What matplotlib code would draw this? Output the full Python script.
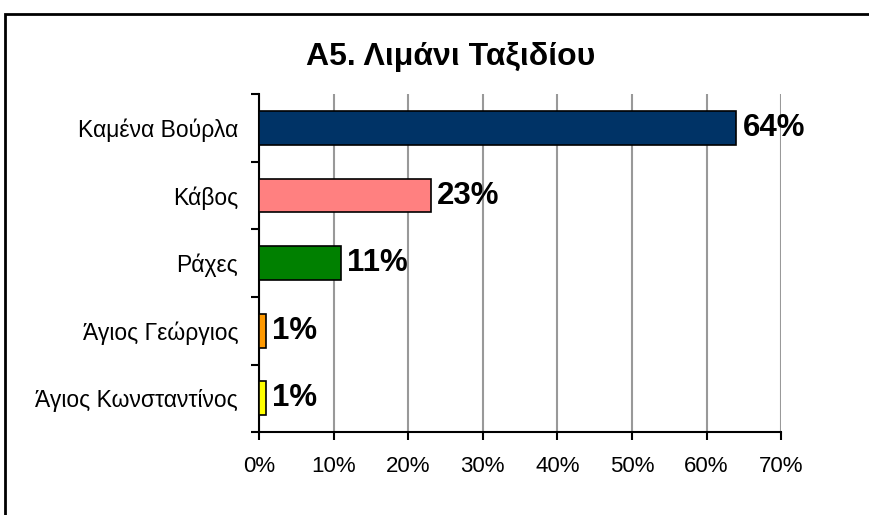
import matplotlib.pyplot as plt
from matplotlib.patches import Rectangle
import numpy as np

# data
categories = ["Καμένα Βούρλα", "Κάβος", "Ράχες", "Άγιος Γεώργιος", "Άγιος Κωνσταντίνος"]
values = [64, 23, 11, 1, 1]
colors = ["#003366", "#FF8080", "#008000", "#FF9900", "#FFFF00"]
xticks = [0, 10, 20, 30, 40, 50, 60, 70]

plt.rcParams['font.family'] = ['Liberation Sans', 'DejaVu Sans']

fig = plt.figure(figsize=(8.69, 5.15), dpi=100)
ax = fig.add_axes([0.298, 0.161, 0.601, 0.656])

# outer frame like the excel chart area
fig.patches.append(Rectangle((5 / 869, -0.05), 1.0, 1 - 14 / 515 + 0.05,
                             transform=fig.transFigure, fill=False,
                             edgecolor="black", linewidth=2))

y = np.arange(len(categories))
ax.barh(y, values, height=0.5, color=colors, edgecolor="black", linewidth=1.2, zorder=3)

for yi, v in zip(y, values):
    ax.text(v + 0.8, yi, f"{v}%", va="center", ha="left",
            fontsize=22.5, fontweight="bold", zorder=4)

ax.set_xlim(0, 70)
ax.set_ylim(len(categories) - 0.5, -0.5)
ax.set_xticks(xticks)
ax.set_xticklabels([f"{t}%" for t in xticks], fontsize=16)
ax.set_yticks(y)
ax.set_yticklabels(categories, fontsize=16.5)
ax.set_yticks(np.arange(-0.5, len(categories), 1), minor=True)
ax.tick_params(axis="y", which="major", length=0, pad=15)
ax.tick_params(axis="y", which="minor", length=6, width=1.5, direction="out")
ax.tick_params(axis="x", length=6, width=1.5, direction="out", pad=11)

ax.grid(axis="x", color="#999999", linewidth=1.5, zorder=0)
for s in ["top", "right"]:
    ax.spines[s].set_visible(False)
for s in ["left", "bottom"]:
    ax.spines[s].set_linewidth(1.5)

fig.text(451 / 869, 1 - 57 / 515, "A5. Λιμάνι Ταξιδίου", ha="center", va="center",
         fontsize=23, fontweight="bold")

fig.savefig("out.png", dpi=100)
